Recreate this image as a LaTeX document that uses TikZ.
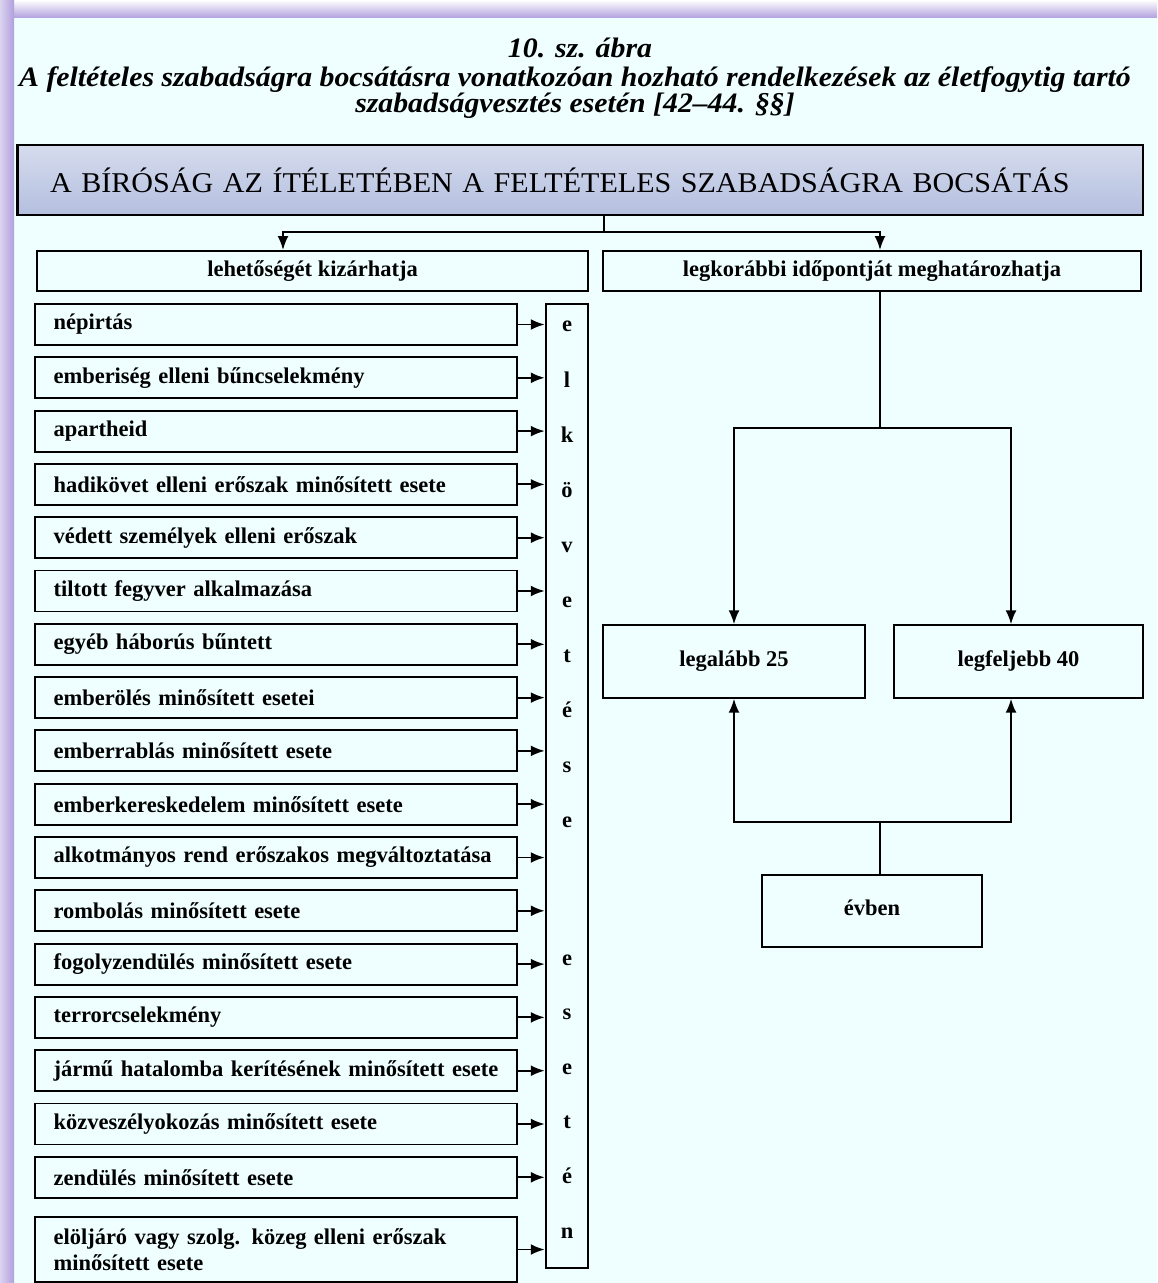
\documentclass[tikz,border=0pt]{standalone}
\usepackage{fontspec}
\setmainfont{Liberation Serif}
\usepackage{tikz}
\usetikzlibrary{arrows.meta}
\definecolor{azure}{HTML}{EFFFFF}
\definecolor{lilac}{HTML}{B09FDD}
\definecolor{slate}{HTML}{B4BFDF}

\begin{document}
\begin{tikzpicture}[x=0.02cm, y=-0.02cm,
			every node/.style={font=\fontsize{12.8}{14.5}\selectfont\bfseries, text=black},
			title/.style={font=\fontsize{16}{14.7}\selectfont\bfseries\itshape\addfontfeature{FakeStretch=1.06}, align=center},
			court/.style={draw, line width=1.6pt, top color=slate!55, bottom color=slate, text width=21.2cm, inner xsep=0.66cm, minimum height=1.4cm, align=left, font=\fontsize{16.3}{18}\selectfont\addfontfeature{FakeStretch=1.05}},
			head/.style={draw, line width=1.1pt, fill=azure, minimum height=0.8cm},
			item/.style={draw, line width=1.1pt, fill=azure, text width=8.9cm, inner xsep=0.365cm, minimum height=0.82cm, align=left},
			result/.style={draw, line width=1.1pt, fill=azure, minimum height=1.45cm, text height=1.6ex, text depth=0.45ex},
			letter/.style={anchor=base, inner sep=0pt},
			arr/.style={-{Latex[length=2.8mm,width=2.2mm]}, line width=1.1pt},
			line/.style={line width=1.1pt}
		]
		% background and frame
		\fill[azure] (0,0) rectangle (1157,1283);
		\shade[top color=white, bottom color=lilac] (0,0) rectangle (1157,18);
		\shade[left color=lilac!45, right color=lilac] (0,0) rectangle (14,1283);
		\useasboundingbox (0,0) rectangle (1157,1283);

		\node[title] (fig) at (580,48) {10. sz. ábra};
		\node[title] (cap) at (575,93) {A feltételes szabadságra bocsátásra vonatkozóan hozható rendelkezések az életfogytig tartó\\szabadságvesztés esetén [42–44. §§]};

		\node[court] (court) at (580,180) {A BÍRÓSÁG AZ ÍTÉLETÉBEN A FELTÉTELES SZABADSÁGRA BOCSÁTÁS};

		\node[head, minimum width=11.02cm] (lhead) at (312.5,271) {lehetőségét kizárhatja};
		\node[head, minimum width=10.76cm] (rhead) at (872,271) {legkorábbi időpontját meghatározhatja};

		% letter column
		\node[draw, line width=1.1pt, fill=azure, minimum width=0.84cm, minimum height=19.28cm, inner sep=0pt] (vbox) at (566.7,786) {};
		\foreach \c [count=\k] in {e,l,k,ö,v,e,t,é,s,e}
			\node[letter] (a\k) at (567,{332+(\k-1)*55}) {\c};
		\foreach \c [count=\k] in {e,s,e,t,é,n}
			\node[letter] (b\k) at (567,{965+(\k-1)*54.6}) {\c};

		% offences
		\foreach \txt [count=\i] in {népirtás, emberiség elleni bűncselekmény, apartheid,
				hadikövet elleni erőszak minősített esete, védett személyek elleni erőszak,
				tiltott fegyver alkalmazása, egyéb háborús bűntett, emberölés minősített esetei,
				emberrablás minősített esete, emberkereskedelem minősített esete,
				alkotmányos rend erőszakos megváltoztatása, rombolás minősített esete,
				fogolyzendülés minősített esete, terrorcselekmény,
				jármű hatalomba kerítésének minősített esete, közveszélyokozás minősített esete,
				zendülés minősített esete} {
			\node[item] (it\i) at (276,{324.5+(\i-1)*53.3}) {\txt};
			\draw[arr] (it\i.east) -- (it\i.east -| vbox.west);
		}
		\node[item, minimum height=1.3cm] (it18) at (276,1249.5) {elöljáró vagy szolg. közeg elleni erőszak\\minősített esete};
		\draw[arr] (it18.east) -- (it18.east -| vbox.west);

		% right side
		\node[result, minimum width=5.24cm] (lo) at (734,661.5) {legalább 25};
		\node[result, minimum width=4.98cm] (hi) at (1018.5,661.5) {legfeljebb 40};
		\node[result, minimum width=4.4cm] (evben) at (872,911) {évben};

		\coordinate (split) at (604,232);
		\coordinate (fork1) at (880,428);
		\coordinate (fork2) at (880,822);

		\draw[line] (court.south -| split) -- (split);
		\draw[arr] (split) -| ([xshift=-0.59cm]lhead.north);
		\draw[arr] (split) -| ([xshift=0.16cm]rhead.north);
		\draw[line] ([xshift=0.16cm]rhead.south) -- (fork1);
		\draw[arr] (fork1) -| (lo.north);
		\draw[arr] (fork1) -| ([xshift=-0.15cm]hi.north);
		\draw[line] ([xshift=0.16cm]evben.north) -- (fork2);
		\draw[arr] (fork2) -| (lo.south);
		\draw[arr] (fork2) -| ([xshift=-0.15cm]hi.south);
	\end{tikzpicture}
\end{document}
